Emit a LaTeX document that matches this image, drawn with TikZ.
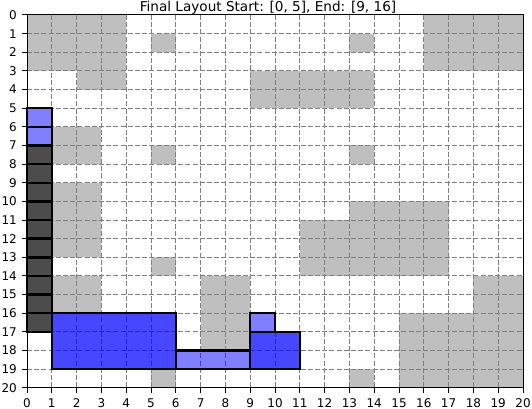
\documentclass[tikz,border=0pt]{standalone}
\usepackage{fontspec}
\setmainfont{DejaVu Sans}
\begin{document}
\begin{tikzpicture}[
    obstacle/.style={fill=gray, fill opacity=0.5},
    visited/.style={fill=black, fill opacity=0.7, draw=black, line width=2.4pt},
    lightblk/.style={fill=blue, fill opacity=0.5, draw=black, line width=2.4pt},
    darkblk/.style={fill=blue, fill opacity=0.72, draw=black, line width=2.4pt},
    gridline/.style={gray, line width=1pt, dash pattern=on 5pt off 2.2pt},
    ticklbl/.style={font=\fontsize{12}{12}\selectfont, inner sep=0pt}]
    \useasboundingbox (0,0) rectangle (532pt,409pt);
    \node[anchor=base, inner sep=0pt, font=\fontsize{13.6}{14}\selectfont] (T) at (268pt,397.5pt) {Final Layout Start: [0, 5], End: [9, 16]};
    \begin{scope}[shift={(27pt,394pt)}, x=24.8pt, y=-18.64pt]
        % grid
        \foreach \i in {1,...,19} {
            \draw[gridline] (\i,0) -- (\i,20);
            \draw[gridline] (0,\i) -- (20,\i);
        }
        % obstacles
        \foreach \x/\y/\w/\h in {0/0/4/3, 2/3/2/1, 5/1/1/1, 13/1/1/1, 16/0/4/3, 9/3/5/2,
            1/6/2/2, 5/7/1/1, 13/7/1/1, 1/9/2/4, 13/10/4/1, 11/11/6/3, 5/13/1/1,
            1/14/2/2, 7/14/2/4, 18/14/2/2, 15/16/5/4, 5/19/1/1, 13/19/1/1}
            \fill[obstacle] (\x,\y) rectangle ++(\w,\h);
        % placed blocks
        \foreach \y in {7,...,16}
            \draw[visited] (0,\y) rectangle ++(1,1);
        \draw[lightblk] (0,5) rectangle (1,6);
        \draw[lightblk] (0,6) rectangle (1,7);
        \draw[darkblk] (1,16) rectangle (6,19);
        \draw[lightblk] (6,18) rectangle (9,19);
        \draw[lightblk] (9,16) rectangle (10,17);
        \draw[darkblk] (9,17) rectangle (11,19);
        % axes
        \draw[line width=1pt] (0,0) rectangle (20,20);
        \foreach \i in {0,...,20} {
            \draw[line width=1pt] (\i,20) -- ++(0,-5pt);
            \draw[line width=1pt] (0,\i) -- ++(-5pt,0);
            \node[ticklbl, anchor=base] (x\i) at ([yshift=-19.8pt]\i,20) {\i};
            \node[ticklbl, anchor=east] (y\i) at ([xshift=-10pt]0,\i) {\i};
        }
    \end{scope}
\end{tikzpicture}
\end{document}
